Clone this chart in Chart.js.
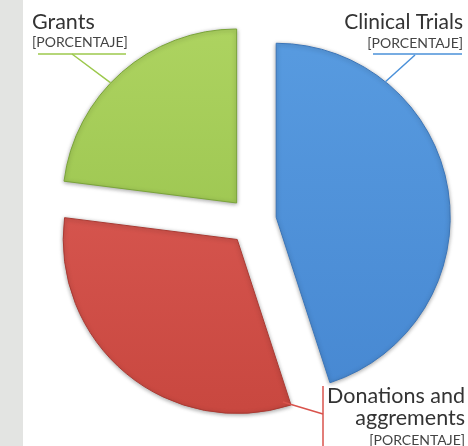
<!DOCTYPE html>
<html>
<head>
<meta charset="utf-8">
<script src="https://cdn.jsdelivr.net/npm/chart.js@4"></script>
<style>
html, body { margin: 0; padding: 0; }
body {
    width: 468px; height: 446px; overflow: hidden;
    background: linear-gradient(to right, #e3e4e2 0, #e3e4e2 23px, #ffffff 23px);
}
#grafico { display: block; }
</style>
</head>
<body>
<canvas id="grafico" width="468" height="446"></canvas>
<script>
const categorias = ["Clinical Trials", "Donations and aggrements", "Grants"]
const valores = [45, 32, 23]
const etiquetasValor = ["[PORCENTAJE]", "[PORCENTAJE]", "[PORCENTAJE]"]
const coloresArriba = ["#589be0", "#e0605a", "#add360"]
const coloresAbajo = ["#4687d1", "#c8473f", "#8fbb44"]
const bordes = ["#3b75b8", "#a93a33", "#7aa43a"]
const lineas = ["#4a90d9", "#d9534c", "#9cc84c"]

const separacion = 24

// donde va cada texto (layout, no datos)
const posiciones = [
    { lado: "right", x: 463, y: [29], yPct: 48, linea: [373, 462, 54], fin: [415, 55], t: 0.24, r: 1 },
    { lado: "right", x: 465, y: [403, 425], yPct: 445, vertical: [323, 386, 446], fin: [323, 414], t: 0.02, r: 0.97 },
    { lado: "left", x: 32, y: [29], yPct: 47, linea: [38, 126, 54], fin: [72, 54], t: 0.44, r: 1 }
]
const lineasTitulo = [["Clinical Trials"], ["Donations and", "aggrements"], ["Grants"]]
const tamTitulo = [21, 21.5, 21.5]

const gradiente = (contexto) => {
    const chart = contexto.chart
    const area = chart.chartArea
    const i = contexto.dataIndex
    if (!area) return coloresArriba[i]
    const g = chart.ctx.createLinearGradient(0, area.top + 30, 0, area.bottom - 20)
    g.addColorStop(0, coloresArriba[i])
    g.addColorStop(1, coloresAbajo[i])
    return g
}

const explotar = {
    id: "explotar",
    afterUpdate: (chart) => {
        chart.getDatasetMeta(0).data.forEach((arco) => {
            const medio = (arco.startAngle + arco.endAngle) / 2
            arco.x += Math.cos(medio) * separacion
            arco.y += Math.sin(medio) * separacion
        })
    },
    beforeDatasetsDraw: (chart) => {
        const ctx = chart.ctx
        ctx.save()
        ctx.shadowColor = "rgba(0,0,0,0.35)"
        ctx.shadowBlur = 4
        ctx.shadowOffsetY = 1
    },
    afterDatasetsDraw: (chart) => {
        chart.ctx.restore()
    }
}

const etiquetas = {
    id: "etiquetas",
    afterDraw: (chart) => {
        const ctx = chart.ctx
        const arcos = chart.getDatasetMeta(0).data
        arcos.forEach((arco, i) => {
            const p = posiciones[i]
            const ang = arco.startAngle + (arco.endAngle - arco.startAngle) * p.t
            const x0 = arco.x + Math.cos(ang) * arco.outerRadius * p.r
            const y0 = arco.y + Math.sin(ang) * arco.outerRadius * p.r

            ctx.save()
            ctx.strokeStyle = lineas[i]
            ctx.lineWidth = 1.5
            ctx.beginPath()
            ctx.moveTo(x0, y0)
            ctx.lineTo(p.fin[0], p.fin[1])
            ctx.stroke()
            ctx.beginPath()
            if (p.linea) {
                ctx.moveTo(p.linea[0], p.linea[2])
                ctx.lineTo(p.linea[1], p.linea[2])
            } else {
                ctx.moveTo(p.vertical[0], p.vertical[1])
                ctx.lineTo(p.vertical[0], p.vertical[2])
            }
            ctx.stroke()

            ctx.textAlign = p.lado
            ctx.textBaseline = "alphabetic"
            ctx.fillStyle = "#333333"
            ctx.font = tamTitulo[i] + "px Lato"
            lineasTitulo[i].forEach((texto, j) => {
                ctx.fillText(texto, p.x, p.y[j])
            })
            ctx.fillStyle = "#444444"
            ctx.font = "14px Lato"
            ctx.fillText(etiquetasValor[i], p.x, p.yPct)
            ctx.restore()
        })
    }
}

const grafico = document.getElementById("grafico")

const config = {
    type: "pie",
    data: {
        labels: categorias,
        datasets: [{
            data: valores,
            backgroundColor: gradiente,
            borderColor: bordes,
            borderWidth: 1,
            radius: 174
        }]
    },
    options: {
        responsive: false,
        animation: false,
        radius: 174,
        layout: { padding: { left: 37, right: 0, top: 0, bottom: 4 } },
        plugins: {
            legend: { display: false },
            tooltip: { enabled: false }
        }
    },
    plugins: [explotar, etiquetas]
}

let michart = new Chart(grafico, config)
</script>
</body>
</html>
